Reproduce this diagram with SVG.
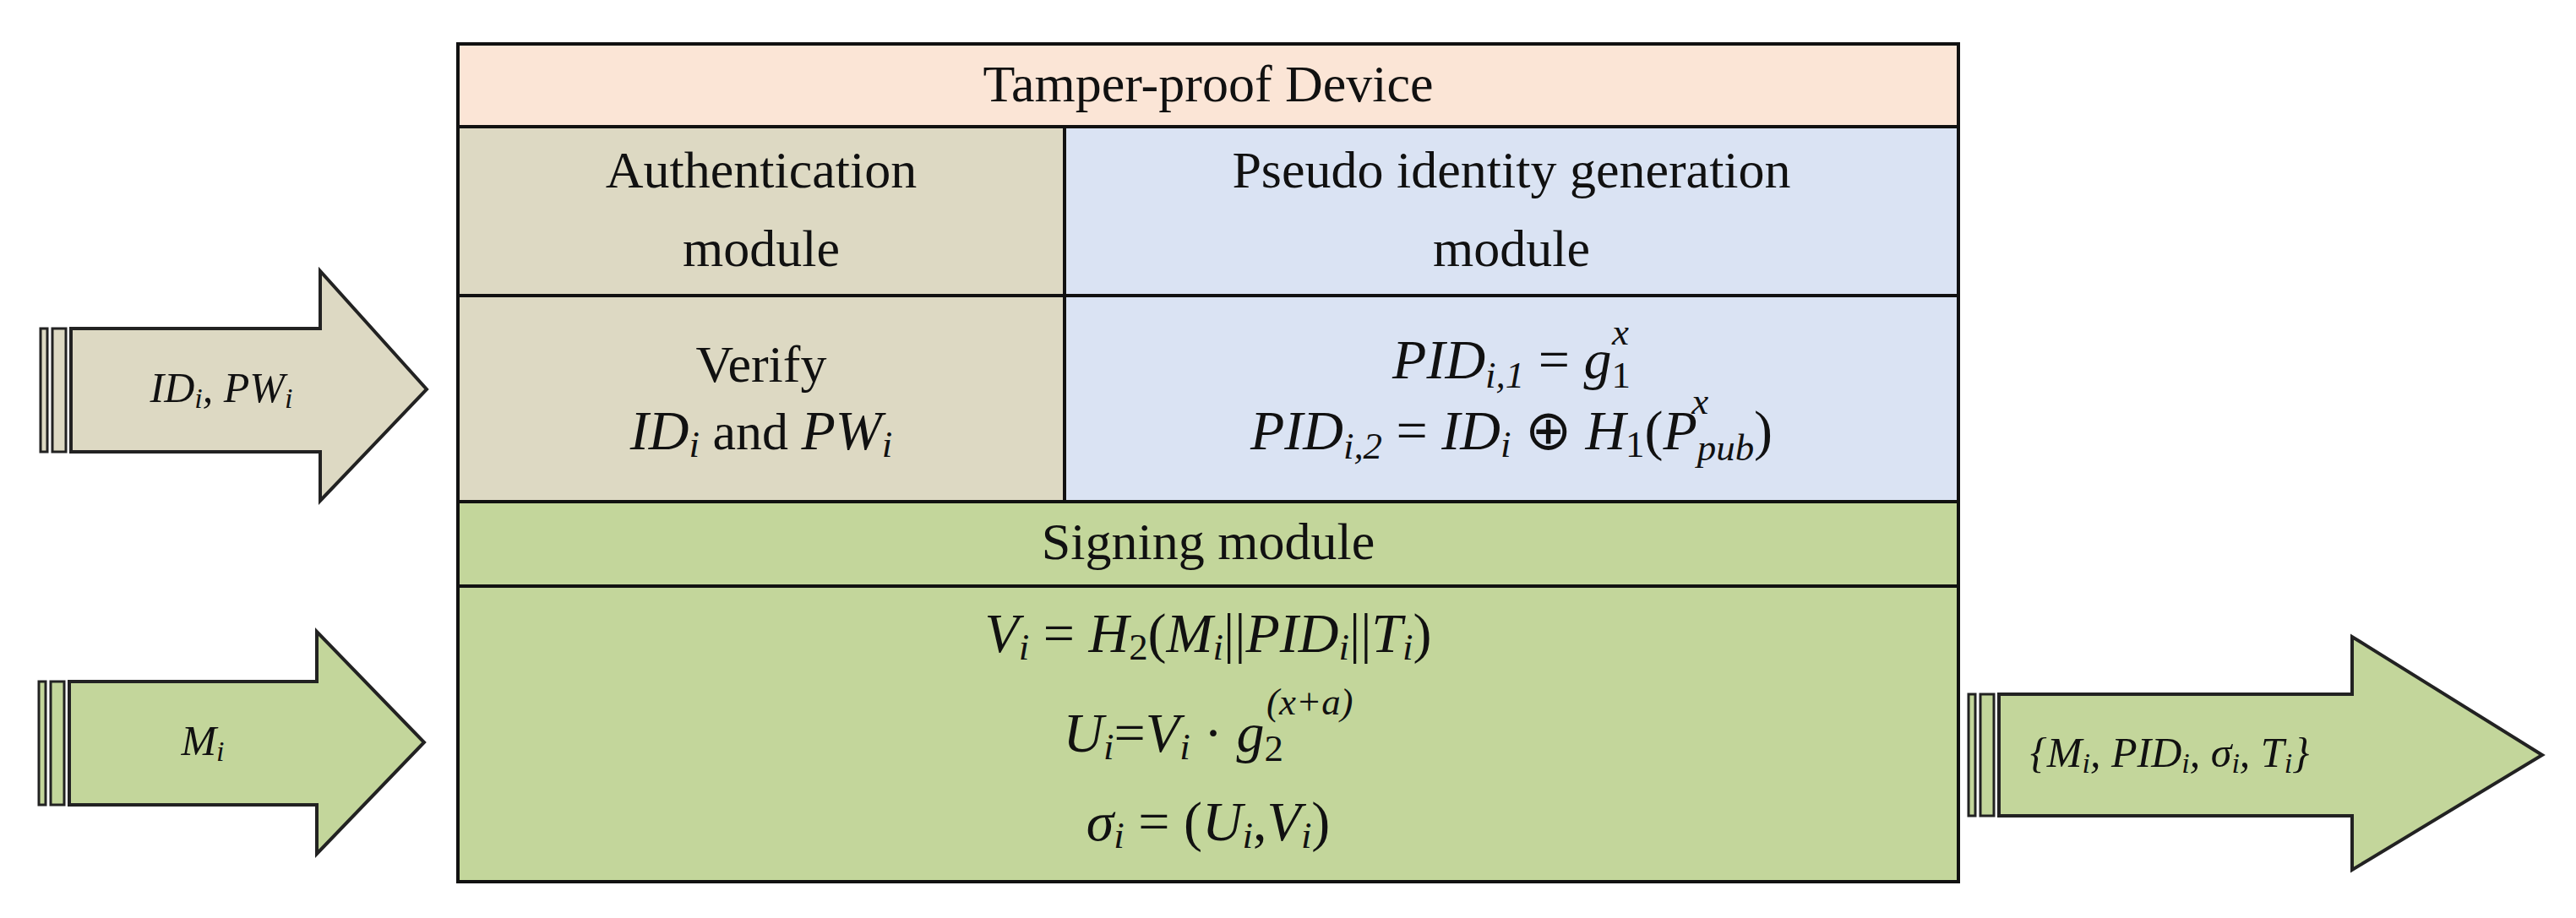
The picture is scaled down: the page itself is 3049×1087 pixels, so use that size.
<svg xmlns="http://www.w3.org/2000/svg" width="3049" height="1087" viewBox="0 0 3049 1087">
<style>
.t{font-family:"Liberation Serif",serif;font-size:62px;fill:#111;text-anchor:middle}
.m{font-family:"Liberation Serif",serif;font-style:italic;font-size:66px;fill:#111;text-anchor:middle}
.a{font-family:"Liberation Serif",serif;font-style:italic;font-size:50px;fill:#111;text-anchor:middle}
.s{font-size:68%}
.n{font-style:normal}
.cell{stroke:#111;stroke-width:4}
.arr{stroke:#222;stroke-width:4;stroke-linejoin:miter}
.str{stroke:#222;stroke-width:3}
</style>
<rect width="3049" height="1087" fill="#fff"/>
<g id="device">
<rect class="cell" x="542" y="52" width="1776" height="98" fill="#fbe5d6"/>
<text class="t" x="1430" y="120">Tamper-proof Device</text>
</g>
<g id="auth-header">
<rect class="cell" x="542" y="150" width="718" height="200" fill="#ddd9c3"/>
<text class="t" x="901" y="222">Authentication</text>
<text class="t" x="901" y="315">module</text>
</g>
<g id="pid-header">
<rect class="cell" x="1260" y="150" width="1058" height="200" fill="#dae3f3"/>
<text class="t" x="1789" y="222">Pseudo identity generation</text>
<text class="t" x="1789" y="315">module</text>
</g>
<g id="auth-content">
<rect class="cell" x="542" y="350" width="718" height="244" fill="#ddd9c3"/>
<text class="t" x="901" y="452">Verify</text>
<text class="m" x="901" y="532">ID<tspan class="s" baseline-shift="-0.2em">i</tspan><tspan class="n" font-size="62"> and </tspan>PW<tspan class="s" baseline-shift="-0.2em">i</tspan></text>
</g>
<g id="pid-content">
<rect class="cell" x="1260" y="350" width="1058" height="244" fill="#dae3f3"/>
<text class="m" x="1789" y="448">PID<tspan class="s" baseline-shift="-0.25em">i,1</tspan><tspan class="n"> =  </tspan>g<tspan class="s n" baseline-shift="-0.25em">1</tspan><tspan class="s" dx="-22" dy="-40">x</tspan></text>
<text class="m" x="1789" y="532">PID<tspan class="s" baseline-shift="-0.25em">i,2</tspan><tspan class="n"> = </tspan>ID<tspan class="s" baseline-shift="-0.2em">i</tspan><tspan class="n"> ⊕ </tspan>H<tspan class="s n" baseline-shift="-0.2em">1</tspan><tspan class="n">(</tspan>P<tspan class="s" baseline-shift="-0.3em">pub</tspan><tspan class="s" dx="-74" dy="-42">x</tspan><tspan class="n" dx="54" dy="42">)</tspan></text>
</g>
<g id="signing-header">
<rect class="cell" x="542" y="594" width="1776" height="100" fill="#c3d69b"/>
<text class="t" x="1430" y="662">Signing module</text>
</g>
<g id="signing-content">
<rect class="cell" x="542" y="694" width="1776" height="350" fill="#c3d69b"/>
<text class="m" x="1430" y="772">V<tspan class="s" baseline-shift="-0.2em">i</tspan><tspan class="n"> = </tspan>H<tspan class="s n" baseline-shift="-0.2em">2</tspan><tspan class="n">(</tspan>M<tspan class="s" baseline-shift="-0.2em">i</tspan><tspan class="n">||</tspan>PID<tspan class="s" baseline-shift="-0.2em">i</tspan><tspan class="n">||</tspan>T<tspan class="s" baseline-shift="-0.2em">i</tspan><tspan class="n">)</tspan></text>
<text class="m" x="1430" y="890">U<tspan class="s" baseline-shift="-0.2em">i</tspan><tspan class="n">=</tspan>V<tspan class="s" baseline-shift="-0.2em">i</tspan><tspan class="n"> · </tspan>g<tspan class="s n" baseline-shift="-0.25em">2</tspan><tspan class="s" dx="-20" dy="-44">(x+a)</tspan></text>
<text class="m" x="1430" y="995">σ<tspan class="s" baseline-shift="-0.2em">i</tspan><tspan class="n"> = (</tspan>U<tspan class="s" baseline-shift="-0.2em">i</tspan><tspan class="n">,</tspan>V<tspan class="s" baseline-shift="-0.2em">i</tspan><tspan class="n">)</tspan></text>
</g>
<g id="connectors">
<g id="arrow-idpw">
<rect class="str" x="48" y="389" width="8" height="146" fill="#ddd9c3"/>
<rect class="str" x="62" y="389" width="16" height="146" fill="#ddd9c3"/>
<path class="arr" d="M84,389 H379 V321 L505,461 L379,593 V535 H84 Z" fill="#ddd9c3"/>
<text class="a" x="262" y="476">ID<tspan class="s" baseline-shift="-0.2em">i</tspan>, PW<tspan class="s" baseline-shift="-0.2em">i</tspan></text>
</g>
<g id="arrow-m">
<rect class="str" x="46" y="807" width="8" height="146" fill="#c3d69b"/>
<rect class="str" x="60" y="807" width="16" height="146" fill="#c3d69b"/>
<path class="arr" d="M82,807 H375 V748 L502,879 L375,1011 V953 H82 Z" fill="#c3d69b"/>
<text class="a" x="240" y="894">M<tspan class="s" baseline-shift="-0.2em">i</tspan></text>
</g>
<g id="arrow-out">
<rect class="str" x="2330" y="822" width="8" height="144" fill="#c3d69b"/>
<rect class="str" x="2344" y="822" width="16" height="144" fill="#c3d69b"/>
<path class="arr" d="M2366,822 H2784 V754 L3009,894 L2784,1030 V966 H2366 Z" fill="#c3d69b"/>
<text class="a" x="2568" y="908">{M<tspan class="s" baseline-shift="-0.2em">i</tspan>, PID<tspan class="s" baseline-shift="-0.2em">i</tspan>, σ<tspan class="s" baseline-shift="-0.2em">i</tspan>, T<tspan class="s" baseline-shift="-0.2em">i</tspan>}</text>
</g>
</g>
</svg>
